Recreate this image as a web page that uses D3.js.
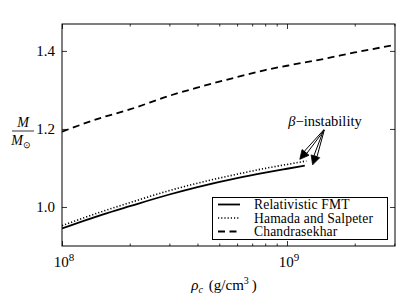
<!DOCTYPE html>
<html>
<head>
<meta charset="utf-8">
<script src="https://cdn.jsdelivr.net/npm/d3@7"></script>
<style>
  body { margin: 0; background: #fff; }
</style>
</head>
<body>
<script>
// central density (g/cm^3) and mass (M/Msun)
const chandraRho = [1e8, 1.5e8, 2e8, 3e8, 4e8, 6e8, 8e8, 1e9, 1.5e9, 2e9, 3e9];
const chandraM   = [1.193, 1.229, 1.250, 1.285, 1.306, 1.333, 1.351, 1.362, 1.381, 1.396, 1.415];
const fmtRho = [1e8, 1.5e8, 2e8, 3e8, 4e8, 6e8, 8e8, 1e9, 1.2e9];
const fmtM   = [0.945, 0.980, 1.002, 1.032, 1.051, 1.074, 1.088, 1.098, 1.106];
const hsRho  = [1e8, 1.5e8, 2e8, 3e8, 4e8, 6e8, 8e8, 1e9, 1.22e9];
const hsM    = [0.952, 0.988, 1.011, 1.042, 1.061, 1.084, 1.099, 1.109, 1.118];
const yTicks = [1.0, 1.2, 1.4];
const xTicks = [1e8, 1e9];
const xMinor = [2e8, 3e8, 4e8, 5e8, 6e8, 7e8, 8e8, 9e8, 2e9, 3e9];
const legendNames = ["Relativistic FMT", "Hamada and Salpeter", "Chandrasekhar"];

(function() {
  let W = 415, H = 305;
  let left = 62, right = 395, top = 24, bottom = 246;
  let serif = 'Liberation Serif';

  let svg = d3.select('body').append('svg')
    .attr('width', W).attr('height', H);

  let x = d3.scaleLog().domain([1e8, 3.02e9]).range([left, right]);
  let y = d3.scaleLinear().domain([0.9, 1.469]).range([bottom, top]);

  // inward ticks on all four sides
  function ticks(axis) {
    return function(g) {
      g.call(axis);
      g.attr('font-family', null).attr('font-size', null);
      g.select('.domain').remove();
      g.selectAll('.tick text').remove();
      g.selectAll('.tick line').attr('stroke', '#000').attr('stroke-width', 0.8);
    };
  }
  svg.append('g').attr('transform', 'translate(0,' + bottom + ')')
    .call(ticks(d3.axisBottom(x).tickValues(xTicks).tickSize(-5)));
  svg.append('g').attr('transform', 'translate(0,' + top + ')')
    .call(ticks(d3.axisTop(x).tickValues(xTicks).tickSize(-5)));
  svg.append('g').attr('transform', 'translate(0,' + bottom + ')')
    .call(ticks(d3.axisBottom(x).tickValues(xMinor).tickSize(-2.5)));
  svg.append('g').attr('transform', 'translate(0,' + top + ')')
    .call(ticks(d3.axisTop(x).tickValues(xMinor).tickSize(-2.5)));
  svg.append('g').attr('transform', 'translate(' + left + ',0)')
    .call(ticks(d3.axisLeft(y).tickValues(yTicks).tickSize(-5)));
  svg.append('g').attr('transform', 'translate(' + right + ',0)')
    .call(ticks(d3.axisRight(y).tickValues(yTicks).tickSize(-5)));

  // frame
  svg.append('rect')
    .attr('x', left).attr('y', top)
    .attr('width', right - left).attr('height', bottom - top)
    .attr('fill', 'none').attr('stroke', '#000').attr('stroke-width', 1);

  // y tick labels
  yTicks.forEach(function(v) {
    svg.append('text')
      .attr('x', left - 7).attr('y', y(v) + 5)
      .attr('text-anchor', 'end')
      .style('font-family', serif)
      .style('font-size', '15px')
      .text(v.toFixed(1));
  });

  // x tick labels 10^n
  xTicks.forEach(function(v) {
    let t = svg.append('text')
      .attr('x', x(v) + 2).attr('y', bottom + 21)
      .attr('text-anchor', 'middle')
      .style('font-family', serif)
      .style('font-size', '15px');
    t.append('tspan').text('10');
    t.append('tspan').attr('dy', -6).style('font-size', '11px').text(Math.round(Math.log10(v)));
  });

  let line = d3.line()
    .x(function(d) { return x(d[0]); })
    .y(function(d) { return y(d[1]); })
    .curve(d3.curveMonotoneX);

  let series = [
    { rho: fmtRho, m: fmtM, dash: null, w: 1.8 },
    { rho: hsRho, m: hsM, dash: '1.2,2', w: 1.6 },
    { rho: chandraRho, m: chandraM, dash: '7,4.5', w: 1.8 }
  ];

  let clip = svg.append('clipPath').attr('id', 'plotclip');
  clip.append('rect').attr('x', left).attr('y', top)
    .attr('width', right - left).attr('height', bottom - top);

  series.forEach(function(s) {
    let pts = s.rho.map(function(r, i) { return [r, s.m[i]]; });
    svg.append('path')
      .datum(pts)
      .attr('clip-path', 'url(#plotclip)')
      .attr('fill', 'none')
      .attr('stroke', '#000')
      .attr('stroke-width', s.w)
      .attr('stroke-dasharray', s.dash)
      .attr('d', line);
  });

  // beta-instability annotation
  let beta = svg.append('text')
    .attr('x', 325).attr('y', 126)
    .attr('text-anchor', 'middle')
    .style('font-family', serif)
    .style('font-size', '14.5px');
  beta.append('tspan').style('font-style', 'italic').text('β');
  beta.append('tspan').text('−instability');

  function arrow(x0, y0, x1, y1) {
    let dx = x1 - x0, dy = y1 - y0;
    let len = Math.sqrt(dx * dx + dy * dy);
    let ux = dx / len, uy = dy / len;
    let px = -uy, py = ux;
    let hl = 9, hw = 4.5, sw = 1.6;
    let bx = x1 - ux * hl, by = y1 - uy * hl;
    // shaft outline
    svg.append('path')
      .attr('d', 'M' + (x0 + px * 0.3) + ',' + (y0 + py * 0.3) +
        'L' + (bx + px * sw) + ',' + (by + py * sw) +
        'L' + (bx - px * sw) + ',' + (by - py * sw) +
        'L' + (x0 - px * 0.3) + ',' + (y0 - py * 0.3) + 'Z')
      .attr('fill', '#fff').attr('stroke', '#000').attr('stroke-width', 1);
    // head
    svg.append('path')
      .attr('d', 'M' + x1 + ',' + y1 +
        'L' + (bx + px * hw) + ',' + (by + py * hw) +
        'L' + (bx - px * hw) + ',' + (by - py * hw) + 'Z')
      .attr('fill', '#000').attr('stroke', '#000').attr('stroke-width', 0.8);
  }
  arrow(324, 130, x(1.14e9), y(1.117) - 2);
  arrow(324, 130, x(1.3e9), y(1.108));

  // legend
  let lg = svg.append('g');
  lg.append('rect')
    .attr('x', 212.5).attr('y', 197.5)
    .attr('width', 175).attr('height', 42)
    .attr('fill', '#fff').attr('stroke', '#000').attr('stroke-width', 1);
  legendNames.forEach(function(name, i) {
    let ly = 204.5 + i * 13.5;
    lg.append('line')
      .attr('x1', 218).attr('x2', 240)
      .attr('y1', ly).attr('y2', ly)
      .attr('stroke', '#000')
      .attr('stroke-width', series[i].w)
      .attr('stroke-dasharray', series[i].dash);
    lg.append('text')
      .attr('x', 254).attr('y', ly + 4.5)
      .style('font-family', serif)
      .style('font-size', '13.6px')
      .style('letter-spacing', '0.15px')
      .text(name);
  });

  // axis labels
  let xl = svg.append('text')
    .attr('x', 224).attr('y', 290)
    .attr('text-anchor', 'middle')
    .style('font-family', serif)
    .style('font-size', '15px');
  xl.append('tspan').style('font-style', 'italic').text('ρ');
  xl.append('tspan').style('font-style', 'italic').attr('dy', 3).style('font-size', '10px').text('c');
  xl.append('tspan').attr('dy', -3).attr('dx', 6).text('(g/cm');
  xl.append('tspan').attr('dy', -6).style('font-size', '10px').text('3');
  xl.append('tspan').attr('dy', 6).attr('dx', 3).text(')');

  svg.append('text')
    .attr('x', 23).attr('y', 127)
    .attr('text-anchor', 'middle')
    .style('font-family', serif)
    .style('font-size', '14px').style('font-style', 'italic')
    .text('M');
  svg.append('line')
    .attr('x1', 12).attr('x2', 34).attr('y1', 131).attr('y2', 131)
    .attr('stroke', '#000').attr('stroke-width', 0.8);
  let msun = svg.append('text')
    .attr('x', 21).attr('y', 145)
    .attr('text-anchor', 'middle')
    .style('font-family', serif)
    .style('font-size', '14px');
  msun.append('tspan').style('font-style', 'italic').text('M');
  msun.append('tspan').attr('dy', 3).style('font-size', '9px').text('⊙');
})();
</script>
</body>
</html>
